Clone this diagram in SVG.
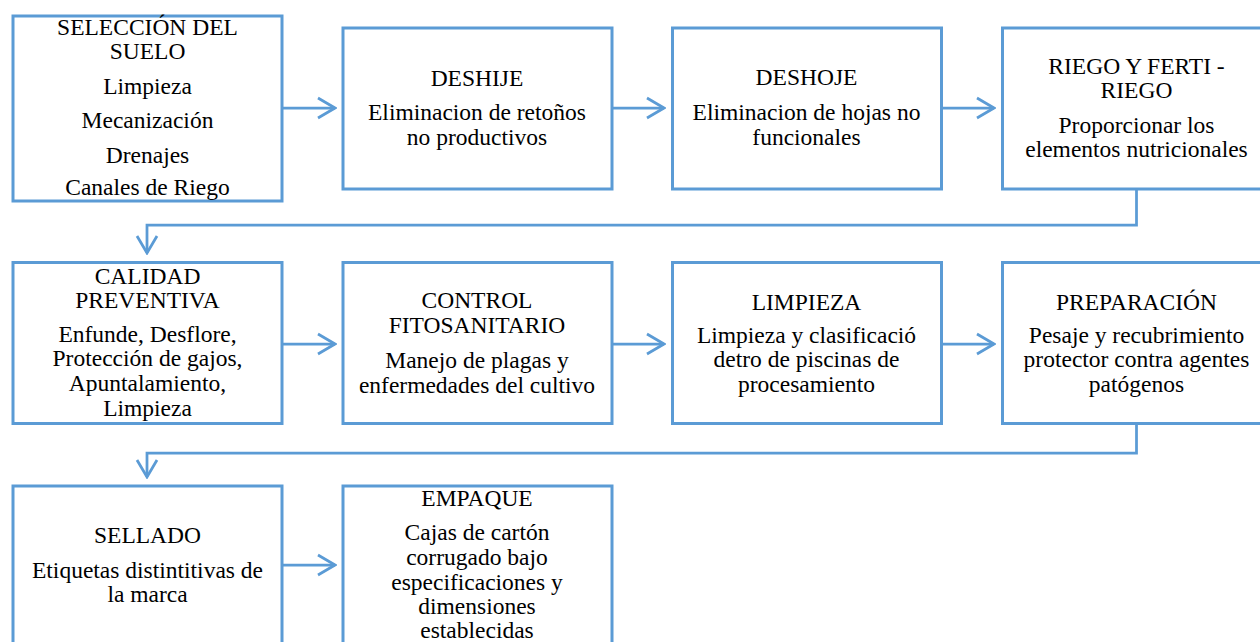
<svg xmlns="http://www.w3.org/2000/svg" width="1260" height="642" viewBox="0 0 1260 642">
<defs>
<style>
.box{fill:#fff;stroke:#5B9BD5;stroke-width:3}
.con{fill:none;stroke:#5B9BD5;stroke-width:2.75}
text{font-family:"Liberation Serif","Times New Roman",serif;font-size:23.5px;fill:#000;text-anchor:middle}
</style>
<marker id="ah" markerUnits="userSpaceOnUse" viewBox="-20 -12 22 24" refX="0" refY="0" markerWidth="22" markerHeight="24" orient="auto">
<path d="M-17,-10 L0,0 L-17,10" fill="none" stroke="#5B9BD5" stroke-width="2.75"/>
</marker>
</defs>
<rect width="1260" height="642" fill="#fff"/>
<g id="connectors">
<path class="con" d="M282,108 H335" marker-end="url(#ah)"/>
<path class="con" d="M611,108 H664" marker-end="url(#ah)"/>
<path class="con" d="M941,108 H994" marker-end="url(#ah)"/>
<path class="con" d="M1136.5,189 V225 H147 V253" marker-end="url(#ah)"/>
<path class="con" d="M282,344 H335" marker-end="url(#ah)"/>
<path class="con" d="M611,344 H664" marker-end="url(#ah)"/>
<path class="con" d="M941,344 H994" marker-end="url(#ah)"/>
<path class="con" d="M1136.5,423 V453 H147 V477" marker-end="url(#ah)"/>
<path class="con" d="M282,565 H335" marker-end="url(#ah)"/>
</g>
<g id="n1">
<rect class="box" x="13" y="16" width="269" height="185"/>
<text x="147.5" y="35">SELECCIÓN DEL</text>
<text x="147.5" y="59">SUELO</text>
<text x="147.5" y="94">Limpieza</text>
<text x="147.5" y="128">Mecanización</text>
<text x="147.5" y="163">Drenajes</text>
<text x="147.5" y="195">Canales de Riego</text>
</g>
<g id="n2">
<rect class="box" x="343" y="28" width="269" height="161"/>
<text x="477" y="86">DESHIJE</text>
<text x="477" y="120">Eliminacion de retoños</text>
<text x="477" y="145">no productivos</text>
</g>
<g id="n3">
<rect class="box" x="672.5" y="28" width="269" height="161"/>
<text x="806.5" y="85">DESHOJE</text>
<text x="806.5" y="120">Eliminacion de hojas no</text>
<text x="806.5" y="145">funcionales</text>
</g>
<g id="n4">
<rect class="box" x="1002.5" y="28" width="269" height="161"/>
<text x="1136.5" y="74">RIEGO Y FERTI -</text>
<text x="1136.5" y="98">RIEGO</text>
<text x="1136.5" y="133">Proporcionar los</text>
<text x="1136.5" y="157">elementos nutricionales</text>
</g>
<g id="n5">
<rect class="box" x="13" y="262.5" width="269" height="161"/>
<text x="147.5" y="284">CALIDAD</text>
<text x="147.5" y="308">PREVENTIVA</text>
<text x="147.5" y="342">Enfunde, Desflore,</text>
<text x="147.5" y="366">Protección de gajos,</text>
<text x="147.5" y="391">Apuntalamiento,</text>
<text x="147.5" y="416">Limpieza</text>
</g>
<g id="n6">
<rect class="box" x="343" y="262.5" width="269" height="161"/>
<text x="477" y="308">CONTROL</text>
<text x="477" y="333">FITOSANITARIO</text>
<text x="477" y="368">Manejo de plagas y</text>
<text x="477" y="393">enfermedades del cultivo</text>
</g>
<g id="n7">
<rect class="box" x="672.5" y="262.5" width="269" height="161"/>
<text x="806.5" y="310">LIMPIEZA</text>
<text x="806.5" y="343">Limpieza y clasificació</text>
<text x="806.5" y="367">detro de piscinas de</text>
<text x="806.5" y="392">procesamiento</text>
</g>
<g id="n8">
<rect class="box" x="1002.5" y="262.5" width="269" height="161"/>
<text x="1136.5" y="310">PREPARACIÓN</text>
<text x="1136.5" y="343">Pesaje y recubrimiento</text>
<text x="1136.5" y="367">protector contra agentes</text>
<text x="1136.5" y="392">patógenos</text>
</g>
<g id="n9">
<rect class="box" x="13" y="486" width="269" height="200"/>
<text x="147.5" y="543">SELLADO</text>
<text x="147.5" y="578">Etiquetas distintitivas de</text>
<text x="147.5" y="602">la marca</text>
</g>
<g id="n10">
<rect class="box" x="343" y="486" width="269" height="200"/>
<text x="477" y="506">EMPAQUE</text>
<text x="477" y="540">Cajas de cartón</text>
<text x="477" y="565">corrugado bajo</text>
<text x="477" y="590">especificaciones y</text>
<text x="477" y="614">dimensiones</text>
<text x="477" y="638">establecidas</text>
</g>
</svg>
